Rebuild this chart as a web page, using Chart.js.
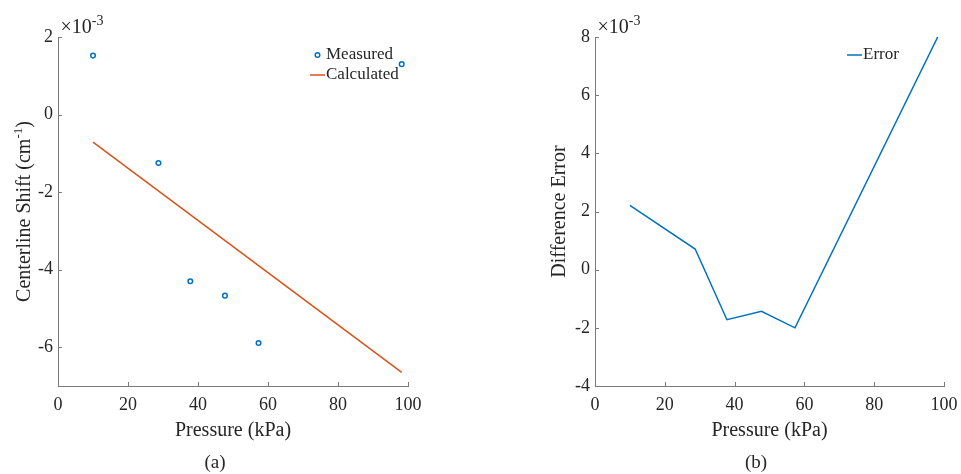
<!DOCTYPE html>
<html lang="en">
<head>
<meta charset="UTF-8">
<title>Centerline shift vs pressure</title>
<script src="https://cdn.jsdelivr.net/npm/chart.js"></script>
<style>
  body { margin: 0; background: #fff; width: 961px; height: 474px; position: relative; overflow: hidden;
         font-family: "Liberation Serif", "Times New Roman", serif; color: #262626; }
  canvas { position: absolute; top: 0; }
  #chartA { left: 0; }
  #chartB { left: 480px; }
  .cap { position: absolute; top: 451px; font-size: 19px; line-height: 22px; transform: translateX(-50%); }
</style>
</head>
<body>

<canvas id="chartA" width="480" height="474"></canvas>
<canvas id="chartB" width="481" height="474"></canvas>
<div class="cap" style="left:215px">(a)</div>
<div class="cap" style="left:756px">(b)</div>

<script>
// values in units of 10^-3
const pressure = [10, 28.7, 37.8, 47.7, 57.3, 98.2];
const measured = [1.52, -1.25, -4.30, -4.67, -5.89, 1.30];
const calcPressure = [10, 98.2];
const calculated = [-0.71, -6.65];
const errorVals = [2.21, 0.71, -1.72, -1.43, -2.0, 8.0];

const xTicks = [0, 20, 40, 60, 80, 100];
const yTicksA = [-6, -4, -2, 0, 2];
const yTicksB = [-4, -2, 0, 2, 4, 6, 8];

const SERIF = '"Liberation Serif", "Times New Roman", serif';
const TXT = '#262626';
const AXIS = '#7a7a7a';
const BLUE = '#0072BD';
const ORANGE = '#D95319';

// titles, x10^-3 label, inward ticks and the legend
const decor = {
  id: 'decor',
  afterDraw(chart, args, o) {
    const ctx = chart.ctx;
    const ca = chart.chartArea;
    const xs = chart.scales.x, ys = chart.scales.y;
    ctx.save();

    // inward tick marks
    ctx.strokeStyle = AXIS;
    ctx.lineWidth = 1;
    ctx.beginPath();
    xs.ticks.forEach(t => {
      const px = Math.round(xs.getPixelForValue(t.value)) + 0.5;
      ctx.moveTo(px, ca.bottom);
      ctx.lineTo(px, ca.bottom - 4);
    });
    ys.ticks.forEach(t => {
      const py = Math.round(ys.getPixelForValue(t.value)) + 0.5;
      ctx.moveTo(ca.left, py);
      ctx.lineTo(ca.left + 4, py);
    });
    ctx.stroke();

    ctx.fillStyle = TXT;
    ctx.textBaseline = 'alphabetic';

    // x10^-3
    ctx.font = '20px ' + SERIF;
    ctx.textAlign = 'left';
    const bx = ca.left + 2.5, by = ca.top - 4;
    ctx.fillText('\u00d710', bx, by);
    const w10 = ctx.measureText('\u00d710').width;
    ctx.font = '14px ' + SERIF;
    ctx.fillText('-3', bx + w10, by - 8);

    // y title (rotated, with optional superscript)
    ctx.save();
    ctx.translate(o.yTitleX, (ca.top + ca.bottom) / 2);
    ctx.rotate(-Math.PI / 2);
    ctx.textBaseline = 'middle';
    ctx.font = '20px ' + SERIF;
    const main = o.yTitle[0], sup = o.yTitle[1] || '', tail = o.yTitle[2] || '';
    const wm = ctx.measureText(main).width, wt = ctx.measureText(tail).width;
    ctx.font = '13px ' + SERIF;
    const ws = ctx.measureText(sup).width;
    let x0 = -(wm + ws + wt) / 2;
    ctx.textAlign = 'left';
    ctx.font = '20px ' + SERIF;
    ctx.fillText(main, x0, 0);
    ctx.font = '13px ' + SERIF;
    ctx.fillText(sup, x0 + wm, -6);
    ctx.font = '20px ' + SERIF;
    ctx.fillText(tail, x0 + wm + ws, 0);
    ctx.restore();

    // legend
    ctx.font = '17px ' + SERIF;
    ctx.textBaseline = 'middle';
    ctx.textAlign = 'left';
    chart.data.datasets.forEach((ds, i) => {
      const ly = ca.top + o.legendTop + i * 20;
      const lx = o.legendLeft;
      ctx.strokeStyle = ds.borderColor;
      ctx.lineWidth = 1.5;
      ctx.beginPath();
      if (ds.showLine) {
        ctx.moveTo(lx, ly);
        ctx.lineTo(lx + 15, ly);
      } else {
        ctx.arc(lx + 7.5, ly, 2.3, 0, Math.PI * 2);
      }
      ctx.stroke();
      ctx.fillStyle = TXT;
      ctx.fillText(ds.label, lx + 16, ly);
    });

    ctx.restore();
  }
};

function makeChart(id, datasets, yMin, yMax, yTicks, yWidth, padRight, decorOpts) {
  return new Chart(document.getElementById(id), {
    type: 'scatter',
    data: { datasets },
    options: {
      responsive: false,
      animation: false,
      devicePixelRatio: 1,
      layout: { padding: { top: 37, right: padRight, left: 0, bottom: 0 } },
      plugins: { legend: { display: false }, tooltip: { enabled: false }, decor: decorOpts },
      scales: {
        x: {
          type: 'linear', min: 0, max: 100,
          afterBuildTicks: s => { s.ticks = xTicks.map(v => ({ value: v })); },
          afterFit: s => { s.height = 88; s.paddingLeft = 0; s.paddingRight = 0; },
          grid: { display: false, drawTicks: false },
          border: { display: true, color: AXIS, width: 1 },
          ticks: { autoSkip: false, maxRotation: 0, padding: 8, color: TXT, font: { family: SERIF, size: 18 } },
          title: { display: true, text: 'Pressure (kPa)', color: TXT, font: { family: SERIF, size: 20 },
                   padding: { top: 0, bottom: 31 } }
        },
        y: {
          type: 'linear', min: yMin, max: yMax,
          afterBuildTicks: s => { s.ticks = yTicks.map(v => ({ value: v })); },
          afterFit: s => { s.width = yWidth; s.paddingTop = 0; s.paddingBottom = 0; },
          grid: { display: false, drawTicks: false },
          border: { display: true, color: AXIS, width: 1 },
          ticks: { autoSkip: false, padding: 5, color: TXT, font: { family: SERIF, size: 18 } }
        }
      }
    },
    plugins: [decor]
  });
}

makeChart('chartA', [
  {
    label: 'Measured',
    data: pressure.map((p, i) => ({ x: p, y: measured[i] })),
    showLine: false,
    borderColor: BLUE,
    backgroundColor: 'rgba(0,0,0,0)',
    borderWidth: 1.5,
    pointRadius: 2.3,
    pointHoverRadius: 2.3
  },
  {
    label: 'Calculated',
    data: calcPressure.map((p, i) => ({ x: p, y: calculated[i] })),
    showLine: true,
    borderColor: ORANGE,
    borderWidth: 1.5,
    pointRadius: 0
  }
], -7, 2, yTicksA, 58, 72, { yTitleX: 25, yTitle: ['Centerline Shift (cm', '-1', ')'], legendLeft: 310, legendTop: 18 });

makeChart('chartB', [
  {
    label: 'Error',
    data: pressure.map((p, i) => ({ x: p, y: errorVals[i] })),
    showLine: true,
    borderColor: BLUE,
    borderWidth: 1.5,
    pointRadius: 0
  }
], -4, 8, yTicksB, 115, 17, { yTitleX: 80, yTitle: ['Difference Error'], legendLeft: 367, legendTop: 18 });
</script>
</body>
</html>
